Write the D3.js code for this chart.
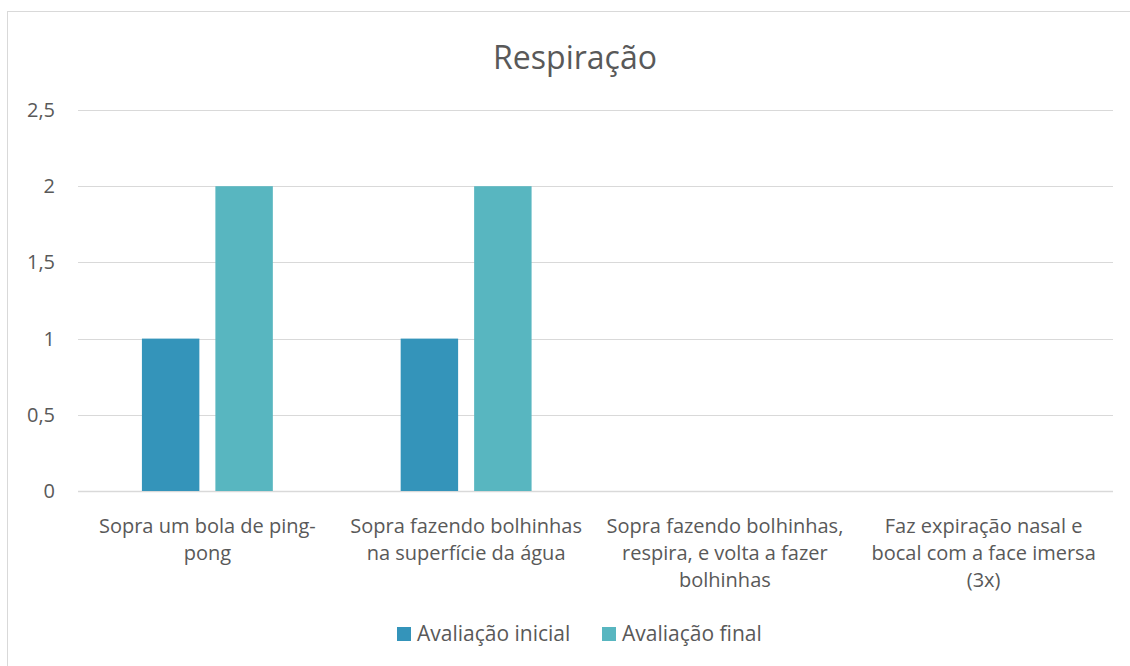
<!DOCTYPE html>
<html>
<head>
<meta charset="utf-8">
<script src="https://cdn.jsdelivr.net/npm/d3@7"></script>
<style>
  body { margin: 0; background: #fff; }
  svg { display: block; font-family: "Open Sans", sans-serif; }
</style>
</head>
<body>
<div id="chart"></div>
<script>
// data
var categories = [
  ['Sopra um bola de ping-', 'pong'],
  ['Sopra fazendo bolhinhas', 'na superfície da água'],
  ['Sopra fazendo bolhinhas,', 'respira, e volta a fazer', 'bolhinhas'],
  ['Faz expiração nasal e', 'bocal com a face imersa', '(3x)']
];
var seriesNames = ['Avaliação inicial', 'Avaliação final'];
var inicial = [1, 1, 0, 0];
var final = [2, 2, 0, 0];
var yTicks = [0, 0.5, 1, 1.5, 2, 2.5];
var colors = ['#3494ba', '#58b6c0'];

var width = 1130, height = 666;
var margin = { left: 78, right: 17, top: 110, bottom: 175 };

var svg = d3.select('#chart').append('svg')
  .attr('width', width)
  .attr('height', height);

// chart frame
svg.append('rect')
  .attr('x', 7.5).attr('y', 11.5)
  .attr('width', 1140).attr('height', 670)
  .attr('fill', 'none')
  .attr('stroke', '#d9d9d9');

var y = d3.scaleLinear().domain([0, 2.5]).range([491, 110]);
var x0 = d3.scaleBand().domain(d3.range(categories.length))
  .range([margin.left, width - margin.right]);
var x1 = d3.scaleBand().domain([0, 1])
  .range([0, x0.bandwidth()])
  .paddingInner(0.218).paddingOuter(0.87);

// gridlines
svg.append('g').selectAll('line')
  .data(yTicks)
  .enter().append('line')
  .attr('x1', margin.left).attr('x2', width - margin.right)
  .attr('y1', function(d) { return Math.round(y(d)) + 0.5; })
  .attr('y2', function(d) { return Math.round(y(d)) + 0.5; })
  .attr('stroke', '#d9d9d9')
  .attr('stroke-width', function(d) { return d === 0 ? 1.5 : 1; });

// y labels
var fmt = function(d) { return String(d).replace('.', ','); };
svg.append('g').selectAll('text')
  .data(yTicks)
  .enter().append('text')
  .attr('x', 55)
  .attr('y', function(d) { return y(d); })
  .attr('dy', '0.35em')
  .attr('text-anchor', 'end')
  .attr('fill', '#595959')
  .style('font-size', '20px')
  .text(fmt);

// bars
var series = [inicial, final];
var cat = svg.append('g').selectAll('g')
  .data(categories)
  .enter().append('g')
  .attr('transform', function(d, i) { return 'translate(' + x0(i) + ',0)'; });

cat.selectAll('rect')
  .data(function(d, i) { return series.map(function(s, k) { return { k: k, v: s[i] }; }); })
  .enter().append('rect')
  .filter(function(d) { return d.v > 0; })
  .attr('x', function(d) { return x1(d.k); })
  .attr('width', x1.bandwidth())
  .attr('y', function(d) { return y(d.v); })
  .attr('height', function(d) { return y(0) - y(d.v); })
  .attr('fill', function(d) { return colors[d.k]; });

// category labels
cat.append('text')
  .attr('text-anchor', 'middle')
  .attr('fill', '#595959')
  .style('font-size', '20px')
  .selectAll('tspan')
  .data(function(d) { return d; })
  .enter().append('tspan')
  .attr('x', x0.bandwidth() / 2)
  .attr('y', function(d, i) { return 533 + i * 27; })
  .text(function(d) { return d; });

// title
svg.append('text')
  .attr('x', 575).attr('y', 69)
  .attr('text-anchor', 'middle')
  .attr('fill', '#595959')
  .style('font-size', '32px')
  .text('Respiração');

// legend
var legendX = [397, 602];
var lg = svg.append('g').selectAll('g')
  .data(seriesNames)
  .enter().append('g')
  .attr('transform', function(d, i) { return 'translate(' + legendX[i] + ',627)'; });
lg.append('rect')
  .attr('width', 14).attr('height', 14)
  .attr('fill', function(d, i) { return colors[i]; });
lg.append('text')
  .attr('x', 20).attr('y', 7)
  .attr('dy', '0.35em')
  .attr('fill', '#595959')
  .style('font-size', '21px')
  .text(function(d) { return d; });
</script>
</body>
</html>
